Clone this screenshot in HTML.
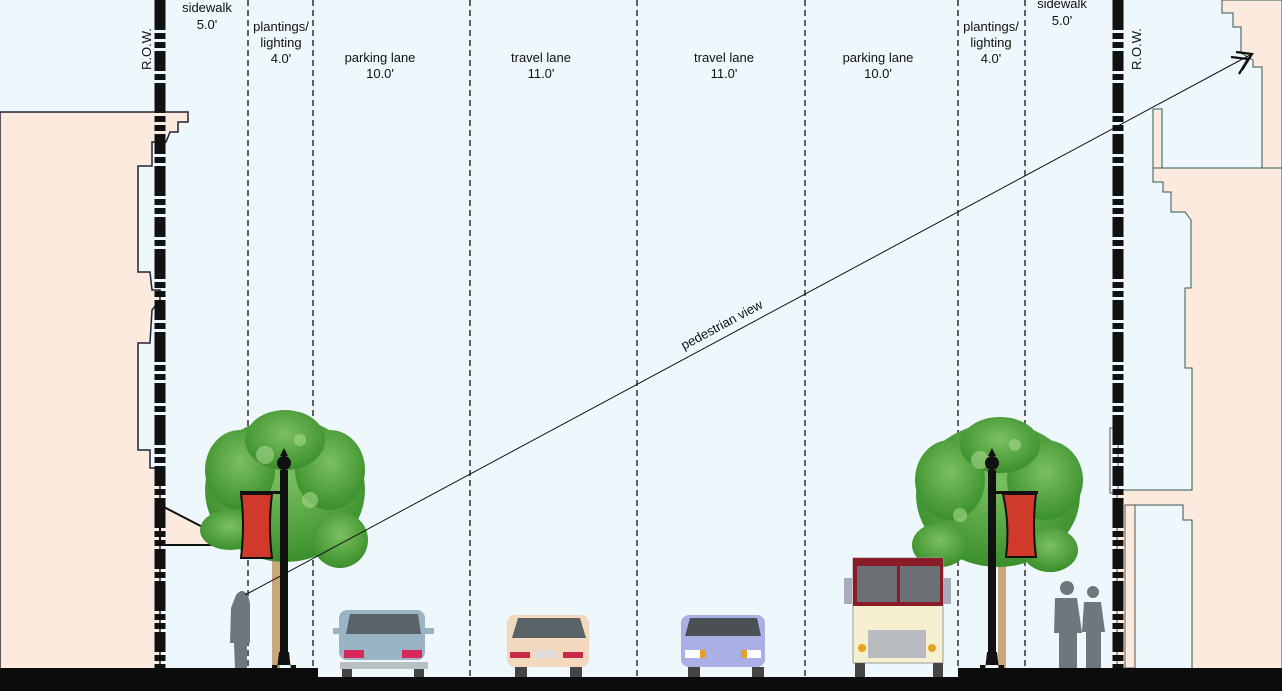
<!DOCTYPE html>
<html><head><meta charset="utf-8"><style>
html,body{margin:0;padding:0;background:#eef7fb;}
svg{display:block;}
text{font-family:"Liberation Sans",sans-serif;font-size:13px;fill:#111;}
</style></head><body>
<svg width="1282" height="691" viewBox="0 0 1282 691" xmlns="http://www.w3.org/2000/svg">
<defs>
<radialGradient id="lf" cx="50%" cy="40%" r="60%"><stop offset="0" stop-color="#7cc060"/><stop offset="1" stop-color="#3a8f2c"/></radialGradient>
</defs>
<rect width="1282" height="691" fill="#eef7fb"/>
<!-- left building -->
<path d="M0,112 L188,112 L188,122 L178,122 L178,132 L170,132 L166,142 L152,142 L152,166 L138,166 L138,272 L150,272 L152,290 L160,290 L160,300 L152,310 L150,343 L138,343 L138,450 L150,450 L150,468 L160,468 L160,670 L0,670 Z" fill="#fbeadd" stroke="#223" stroke-width="1.5"/>
<path d="M160,505 L218,535 L218,545 L160,545 Z" fill="#fbeadd" stroke="#111" stroke-width="2"/>
<!-- right building upper -->
<path d="M1222,0 L1222,13 L1233,13 L1233,27 L1241,27 L1241,53 L1253,60 L1253,67 L1262,67 L1262,168 L1282,168 L1282,0 Z" fill="#fbeadd" stroke="#355" stroke-width="1"/>
<path d="M1153,109 L1162,109 L1162,168 L1153,168 Z" fill="#fbeadd" stroke="#355" stroke-width="1"/>
<path d="M1153,168 L1282,168 L1282,670 L1192,670 L1192,520 L1183,520 L1183,505 L1135,505 L1135,670 L1117,670 L1117,490 L1192,490 L1192,368 L1185,368 L1185,288 L1191,288 L1191,220 L1185,212 L1171,212 L1171,192 L1163,192 L1163,182 L1153,182 Z" fill="#fbeadd" stroke="#355" stroke-width="1"/>
<rect x="1110" y="428" width="8" height="65" fill="#eef7fb" stroke="#555" stroke-width="1"/>
<rect x="1125" y="505" width="10" height="163" fill="#fbeadd" stroke="#555" stroke-width="1"/>
<!-- ROW lines -->
<line x1="160" y1="0" x2="160" y2="691" stroke="#111" stroke-width="11" stroke-dasharray="30,3,6,3,6,3,20,3,6,3"/>
<line x1="1118" y1="0" x2="1118" y2="691" stroke="#111" stroke-width="11" stroke-dasharray="30,3,6,3,6,3,20,3,6,3"/>
<text transform="translate(151,70) rotate(-90)" font-size="15">R.O.W.</text>
<text transform="translate(1141,70) rotate(-90)" font-size="15">R.O.W.</text>
<!-- dashed lines -->
<g stroke="#111" stroke-width="1.3" stroke-dasharray="6,4">
<line x1="248" y1="0" x2="248" y2="670"/><line x1="313" y1="0" x2="313" y2="670"/>
<line x1="470" y1="0" x2="470" y2="678"/><line x1="637" y1="0" x2="637" y2="678"/>
<line x1="805" y1="0" x2="805" y2="678"/><line x1="958" y1="0" x2="958" y2="670"/>
<line x1="1025" y1="0" x2="1025" y2="670"/>
</g>
<!-- labels -->
<g text-anchor="middle">
<text x="207" y="12">sidewalk</text><text x="207" y="29">5.0'</text>
<text x="281" y="31">plantings/</text><text x="281" y="47">lighting</text><text x="281" y="63">4.0'</text>
<text x="380" y="62">parking lane</text><text x="380" y="78">10.0'</text>
<text x="541" y="62">travel lane</text><text x="541" y="78">11.0'</text>
<text x="724" y="62">travel lane</text><text x="724" y="78">11.0'</text>
<text x="878" y="62">parking lane</text><text x="878" y="78">10.0'</text>
<text x="991" y="31">plantings/</text><text x="991" y="47">lighting</text><text x="991" y="63">4.0'</text>
<text x="1062" y="8">sidewalk</text><text x="1062" y="25">5.0'</text>
</g>
<!-- trees -->
<g fill="url(#lf)">
<rect x="272" y="520" width="8" height="150" fill="#c9a77c"/>
<ellipse cx="285" cy="490" rx="80" ry="72"/>
<ellipse cx="240" cy="470" rx="35" ry="40"/><ellipse cx="330" cy="470" rx="35" ry="40"/>
<ellipse cx="285" cy="440" rx="40" ry="30"/><ellipse cx="230" cy="530" rx="30" ry="20"/><ellipse cx="340" cy="540" rx="28" ry="28"/>
<rect x="998" y="540" width="8" height="130" fill="#c9a77c"/>
<ellipse cx="998" cy="495" rx="82" ry="72"/>
<ellipse cx="950" cy="480" rx="35" ry="40"/><ellipse cx="1045" cy="480" rx="38" ry="40"/>
<ellipse cx="1000" cy="445" rx="40" ry="28"/><ellipse cx="940" cy="545" rx="28" ry="22"/><ellipse cx="1050" cy="550" rx="28" ry="22"/>
</g>
<g fill="#a8d890" opacity="0.6">
<circle cx="265" cy="455" r="9"/><circle cx="310" cy="500" r="8"/><circle cx="250" cy="510" r="7"/><circle cx="300" cy="440" r="6"/>
<circle cx="980" cy="460" r="9"/><circle cx="1025" cy="505" r="8"/><circle cx="960" cy="515" r="7"/><circle cx="1015" cy="445" r="6"/>
</g>
<!-- lamp posts -->
<g fill="#111">
<rect x="280" y="470" width="8" height="190"/><path d="M277,670 L279,652 L289,652 L291,670 Z M272,670 h24 v-5 h-24z"/>
<circle cx="284" cy="463" r="7"/><path d="M280,456 L284,448 L288,456Z"/>
<rect x="240" y="491" width="40" height="3"/>
<rect x="988" y="470" width="8" height="190"/><path d="M985,670 L987,652 L997,652 L999,670 Z M980,670 h24 v-5 h-24z"/>
<circle cx="992" cy="463" r="7"/><path d="M988,456 L992,448 L996,456Z"/>
<rect x="996" y="491" width="42" height="3"/>
</g>
<path d="M241,494 L272,494 Q268,525 272,558 L241,558 Q245,525 241,494Z" fill="#d03a2a" stroke="#111" stroke-width="2"/>
<path d="M1003,494 L1036,494 Q1032,525 1036,557 L1006,557 Q1010,525 1003,494Z" fill="#d03a2a" stroke="#111" stroke-width="2"/>
<!-- pedestrians -->
<g fill="#6d787c">
<path d="M236,595 q6,-8 12,0 l2,8 l0,40 l-3,0 l0,27 l-12,0 l-1,-27 l-4,0 l1,-35z"/>
<circle cx="1067" cy="588" r="7"/><path d="M1055,598 h22 l5,35 l-5,0 l0,37 h-18 l0,-37 l-5,0z"/>
<circle cx="1093" cy="592" r="6"/><path d="M1084,602 h17 l4,30 l-4,0 l0,38 h-15 l0,-38 l-4,0z"/>
</g>
<!-- pedestrian view -->
<line x1="245" y1="595" x2="1250" y2="55" stroke="#111" stroke-width="1"/>
<path d="M1236,52 L1252,54 L1242,70 M1231,57 L1248,59 L1239,74" fill="none" stroke="#111" stroke-width="2.2"/>
<text transform="translate(684,350) rotate(-28.2)" font-size="12">pedestrian view</text>
<!-- cars -->
<g>
<rect x="339" y="610" width="86" height="50" rx="8" fill="#9ab4c4"/>
<path d="M346,634 L350,614 L418,614 L421,634Z" fill="#5a6468"/>
<rect x="333" y="628" width="10" height="6" fill="#9ab4c4"/><rect x="424" y="628" width="10" height="6" fill="#9ab4c4"/>
<rect x="344" y="650" width="20" height="8" fill="#d8285a"/><rect x="402" y="650" width="20" height="8" fill="#d8285a"/>
<rect x="340" y="662" width="88" height="7" fill="#b8c0c4"/><rect x="342" y="669" width="10" height="9" fill="#444"/><rect x="414" y="669" width="10" height="9" fill="#444"/>
<rect x="507" y="615" width="82" height="52" rx="8" fill="#f2d8bc"/>
<path d="M512,638 L518,618 L580,618 L586,638Z" fill="#5a6468"/>
<rect x="510" y="652" width="20" height="6" fill="#c8284a"/><rect x="563" y="652" width="20" height="6" fill="#c8284a"/>
<rect x="536" y="650" width="20" height="8" fill="#ddd"/>
<rect x="515" y="667" width="12" height="11" fill="#444"/><rect x="570" y="667" width="12" height="11" fill="#444"/>
<rect x="681" y="615" width="84" height="52" rx="8" fill="#aab0e6"/>
<path d="M685,636 L690,618 L757,618 L761,636Z" fill="#4a5054"/>
<rect x="685" y="650" width="20" height="8" fill="#fff"/><rect x="741" y="650" width="20" height="8" fill="#fff"/>
<rect x="700" y="650" width="6" height="8" fill="#e8a020"/><rect x="741" y="650" width="6" height="8" fill="#e8a020"/>
<rect x="688" y="667" width="12" height="11" fill="#444"/><rect x="752" y="667" width="12" height="11" fill="#444"/>
</g>
<!-- truck -->
<g>
<rect x="853" y="558" width="90" height="105" fill="#f6f0d0" stroke="#999" stroke-width="1"/>
<rect x="853" y="558" width="90" height="48" fill="#8a1c2a"/>
<rect x="857" y="566" width="40" height="36" fill="#6a7074"/><rect x="900" y="566" width="40" height="36" fill="#6a7074"/>
<rect x="844" y="578" width="8" height="26" fill="#aab"/><rect x="943" y="578" width="8" height="26" fill="#aab"/>
<rect x="868" y="630" width="58" height="28" fill="#b8bcc0"/>
<circle cx="862" cy="648" r="4" fill="#e8a020"/><circle cx="932" cy="648" r="4" fill="#e8a020"/>
<rect x="855" y="663" width="10" height="14" fill="#444"/><rect x="933" y="663" width="10" height="14" fill="#444"/>
</g>
<!-- ground -->
<path d="M0,668 L318,668 L318,677 L958,677 L958,668 L1282,668 L1282,691 L0,691Z" fill="#0c0c0c"/>
</svg>
</body></html>
